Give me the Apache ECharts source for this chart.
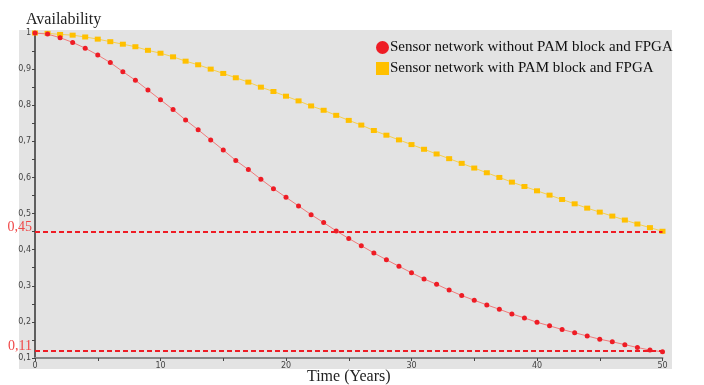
<!DOCTYPE html>
<html><head><meta charset="utf-8">
<script src="https://cdn.jsdelivr.net/npm/echarts@6/dist/echarts.min.js"></script>
<style>html,body{margin:0;padding:0;background:#fff}#c{width:704px;height:385px}</style>
</head><body><div id="c"></div>
<script>
var years = [];
for (var i = 0; i <= 50; i++) years.push(i);
var seriesNames = ['Sensor network without PAM block and FPGA', 'Sensor network with PAM block and FPGA'];
var withoutPAM = [1.000,0.997,0.987,0.974,0.958,0.939,0.918,0.893,0.869,0.842,0.815,
  0.788,0.759,0.732,0.704,0.676,0.647,0.622,0.595,0.569,0.545,
  0.521,0.497,0.475,0.452,0.431,0.411,0.391,0.372,0.354,0.336,
  0.319,0.304,0.288,0.273,0.260,0.247,0.235,0.222,0.211,0.199,
  0.189,0.179,0.170,0.161,0.152,0.145,0.137,0.129,0.122,0.117];
var withPAM = [1.000,0.999,0.996,0.994,0.989,0.983,0.976,0.969,0.962,0.952,0.944,
  0.934,0.922,0.912,0.900,0.888,0.876,0.864,0.850,0.838,0.825,
  0.812,0.798,0.786,0.772,0.758,0.745,0.730,0.717,0.704,0.691,
  0.678,0.665,0.652,0.639,0.626,0.613,0.600,0.587,0.575,0.563,
  0.551,0.539,0.527,0.515,0.504,0.493,0.482,0.471,0.461,0.451];
var refValues = [0.447, 0.116];
var refLabels = ['0,45', '0,11'];

function pairs(vals){ return years.map(function(t,i){ return [t, vals[i]]; }); }

var chart = echarts.init(document.getElementById('c'), null, {renderer:'canvas'});
var serif = 'Liberation Serif';
chart.setOption({
  animation:false,
  graphic:[{type:'rect', z:-10, shape:{x:19,y:30,width:653,height:339}, style:{fill:'#e3e3e3'}}],
  title:{text:'Availability', left:21, top:7, textStyle:{fontFamily:serif, fontSize:16, fontWeight:'normal', color:'#222'}},
  legend:{orient:'vertical', left:371, top:35, itemGap:6, itemWidth:13, itemHeight:13,
    textStyle:{fontFamily:serif, fontSize:15, color:'#111', padding:[0,0,0,-4]},
    data:[{name:seriesNames[0], icon:'circle'},{name:seriesNames[1], icon:'rect'}]},
  grid:{left:35, right:41.5, top:33, bottom:27, containLabel:false, outerBoundsMode:'none'},
  xAxis:{type:'value', min:0, max:50, interval:5,
    name:'Time (Years)', nameLocation:'middle', nameGap:11, nameMoveOverlap:false,
    nameTextStyle:{fontFamily:serif, fontSize:16, color:'#222'},
    axisLine:{lineStyle:{color:'#888', width:2}},
    axisTick:{length:3, lineStyle:{color:'#444'}},
    axisLabel:{fontFamily:'DejaVu Sans', fontSize:8, color:'#444', margin:4,
      formatter:function(v){ return (Math.round(v) % 10 === 0) ? String(v) : ''; }},
    splitLine:{show:false}},
  yAxis:{type:'value', min:0.1, max:1, interval:0.05,
    axisLine:{show:true, lineStyle:{color:'#333', width:1.5}},
    axisTick:{show:true, length:3, lineStyle:{color:'#444'}},
    axisLabel:{fontFamily:'DejaVu Sans', fontSize:8, color:'#444', margin:4,
      formatter:function(v){ var k=Math.round(v*100); if(k%10!==0) return ''; if(k===100) return '1'; return (k/100).toString().replace('.',','); }},
    splitLine:{show:false}},
  series:[
    {name:seriesNames[0], type:'line', data:pairs(withoutPAM), symbol:'circle', symbolSize:5,
      itemStyle:{color:'#ee1c25'}, lineStyle:{color:'#f07a7a', width:1}, z:3,
      markLine:{silent:true, symbol:'none',
        lineStyle:{color:'#ee1c25', type:[5,3], width:2},
        label:{show:true, position:'start', fontFamily:serif, fontSize:14, color:'#f04848', distance:3,
          verticalAlign:'bottom', padding:[0,0,-3,0],
          formatter:function(p){ return refLabels[p.dataIndex]; }},
        data:refValues.map(function(v){ return {yAxis:v}; })}},
    {name:seriesNames[1], type:'line', data:pairs(withPAM), symbol:'rect', symbolSize:[6,5],
      itemStyle:{color:'#ffc000'}, lineStyle:{color:'#f5cf50', width:1}, z:2}
  ]
});
</script></body></html>
